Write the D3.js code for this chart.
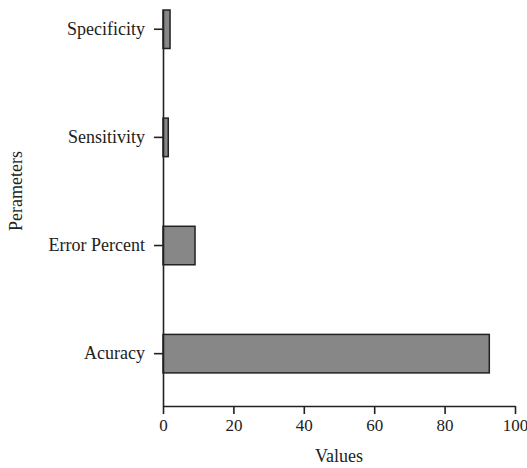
<!DOCTYPE html>
<html>
<head>
<meta charset="utf-8">
<script src="https://cdn.jsdelivr.net/npm/d3@7"></script>
<style>
	body { margin: 0; background: #fff; }
	text { font-family: "Liberation Serif", "DejaVu Serif", serif; fill: #222; }
</style>
</head>
<body>
<script>
const parameters = ["Specificity", "Sensitivity", "Error Percent", "Acuracy"];
const values = [2.0, 1.5, 9.1, 92.7];
const xTicks = [0, 20, 40, 60, 80, 100];

const W = 527, H = 468;
const plot = { left: 163, right: 515, top: 10, bottom: 406 };
const fontSize = "18px";

const svg = d3.select("body").append("svg")
	.attr("width", W)
	.attr("height", H);

const x = d3.scaleLinear()
	.domain([0, 100])
	.range([plot.left, plot.right]);

const y = d3.scaleBand()
	.domain(parameters)
	.range([plot.top, plot.bottom])
	.paddingInner(0.644)
	.paddingOuter(0.153)
	.align(0);

// bars
svg.selectAll("rect.bar")
	.data(parameters)
	.enter()
	.append("rect")
	.attr("class", "bar")
	.attr("x", x(0))
	.attr("y", d => y(d))
	.attr("width", (d, i) => x(values[i]) - x(0))
	.attr("height", y.bandwidth())
	.attr("fill", "#878787")
	.attr("stroke", "#222")
	.attr("stroke-width", 1.5);

// x axis
const xAxis = svg.append("g")
	.attr("transform", `translate(0,${plot.bottom})`)
	.call(d3.axisBottom(x).tickValues(xTicks).tickSize(8).tickSizeOuter(0).tickPadding(5));
xAxis.selectAll("text").style("font-size", "17px").attr("fill", "#222");

// y axis
const yAxis = svg.append("g")
	.attr("transform", `translate(${plot.left},0)`)
	.call(d3.axisLeft(y).tickSize(9).tickSizeOuter(0).tickPadding(9));
yAxis.selectAll("text").style("font-size", fontSize).attr("fill", "#222");

svg.selectAll(".domain, .tick line")
	.attr("stroke", "#222")
	.attr("stroke-width", 1.6);

// axis titles
svg.append("text")
	.attr("x", (plot.left + plot.right) / 2)
	.attr("y", 462)
	.attr("text-anchor", "middle")
	.style("font-size", fontSize)
	.text("Values");

svg.append("text")
	.attr("transform", "rotate(-90)")
	.attr("x", -191)
	.attr("y", 22)
	.attr("text-anchor", "middle")
	.style("font-size", fontSize)
	.text("Perameters");
</script>
</body>
</html>
